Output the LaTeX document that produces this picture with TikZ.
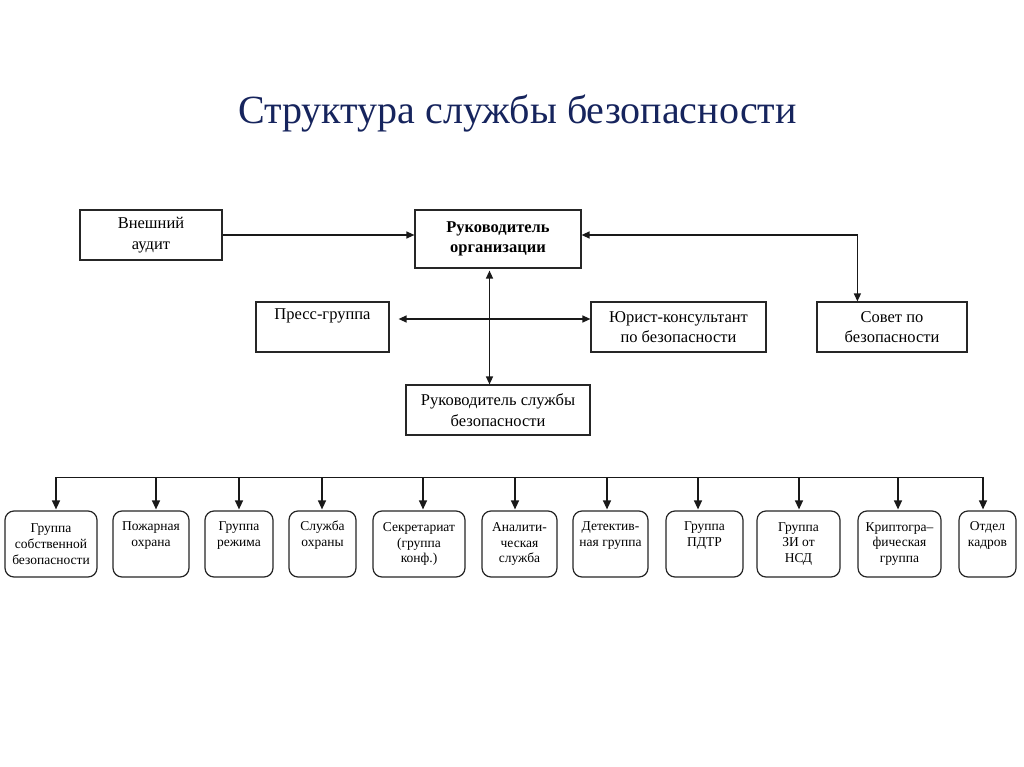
\documentclass[tikz,border=0pt]{standalone}
\usepackage{fontspec}
\setmainfont{Liberation Serif}
\usetikzlibrary{arrows.meta,calc}
\definecolor{titleblue}{RGB}{22,36,93}
\begin{document}
\begin{tikzpicture}[x=1pt,y=-1pt,
  box/.style={draw=black!85, line width=1.2pt, fill=white, inner sep=0pt,
    font=\fontsize{16.5}{20.5}\selectfont, align=center},
  bbox/.style={draw=black!85, line width=1.2pt, rounded corners=9pt, inner sep=0pt,
    minimum height=66pt, font=\fontsize{13.5}{15.8}\selectfont, align=center},
  conn/.style={line width=1.3pt, draw=black!90},
  bus/.style={line width=1pt, draw=black!90},
  tip/.style={-{Triangle[length=8pt,width=7pt]}},
  btip/.style={-{Triangle[length=9pt,width=8pt]}},
  dtip/.style={{Triangle[length=8pt,width=7pt]}-{Triangle[length=8pt,width=7pt]}}
]
\useasboundingbox (0,0) rectangle (1024,767);
\fill[white] (0,0) rectangle (1024,767);

% title
\node[font=\fontsize{40}{45}\selectfont, text=titleblue, anchor=base, inner sep=0pt]
  (title) at (517.5,124) {Структура службы безопасности};

% upper boxes
\node[box, minimum width=142pt, minimum height=50pt] (ext) at (151,235) {Внешний\\аудит};
\node[box, minimum width=166pt, minimum height=58pt] (org) at (498,239) {\bfseries Руководитель\\\bfseries организации};
\node[box, minimum width=133pt, minimum height=50pt] (press) at (322.5,327) {Пресс-группа\\\strut};
\node[box, minimum width=175pt, minimum height=50pt] (jur) at (678.5,327) {Юрист-консультант\\по безопасности};
\node[box, minimum width=150pt, minimum height=50pt] (sov) at (892,327) {Совет по\\безопасности};
\node[box, minimum width=184pt, minimum height=50pt] (rsb) at (498,410) {Руководитель службы\\безопасности};

% upper connectors
\coordinate (vx) at (489.5,0);
\coordinate (hy) at (0,319);
\draw[conn,tip] (ext.east) -- (ext.east -| org.west);
\draw[conn,dtip] (org.east |- ext.east) -| ($(sov.north west)+(41,0)$);
\draw[conn,dtip] ($(org.south -| vx)+(0,2)$) -- (rsb.north -| vx);
\draw[conn,dtip] ($(press.east |- hy)+(9,0)$) -- (jur.west |- hy);

% lower boxes
\node[bbox, minimum width=92pt] (b1) at (51,544) {Группа\\собственной\\безопасности};
\node[bbox, minimum width=76pt] (b2) at (151,544) {Пожарная\\охрана\\\strut};
\node[bbox, minimum width=68pt] (b3) at (239,544) {Группа\\режима\\\strut};
\node[bbox, minimum width=67pt] (b4) at (322.5,544) {Служба\\охраны\\\strut};
\node[bbox, minimum width=92pt] (b5) at (419,544) {Секретариат\\(группа\\конф.)};
\node[bbox, minimum width=75pt] (b6) at (519.5,544) {Аналити-\\ческая\\служба};
\node[bbox, minimum width=75pt] (b7) at (610.5,544) {Детектив-\\ная группа\\\strut};
\node[bbox, minimum width=77pt] (b8) at (704.5,544) {Группа\\ПДТР\\\strut};
\node[bbox, minimum width=83pt] (b9) at (798.5,544) {Группа\\ЗИ от\\НСД};
\node[bbox, minimum width=83pt] (b10) at (899.5,544) {Криптогра–\\фическая\\группа};
\node[bbox, minimum width=57pt] (b11) at (987.5,544) {Отдел\\кадров\\\strut};

% bus
\coordinate (a1) at (56,477);
\coordinate (a2) at (156,477);
\coordinate (a3) at (239,477);
\coordinate (a4) at (322,477);
\coordinate (a5) at (423,477);
\coordinate (a6) at (515,477);
\coordinate (a7) at (607,477);
\coordinate (a8) at (698,477);
\coordinate (a9) at (799,477);
\coordinate (a10) at (898,477);
\coordinate (a11) at (983,477);
\draw[bus] (a1) -- (a11);
\foreach \i in {1,...,11}{
  \draw[conn,btip] (a\i) -- ($(a\i |- b\i.north)+(0,-1)$);
}
\end{tikzpicture}
\end{document}
